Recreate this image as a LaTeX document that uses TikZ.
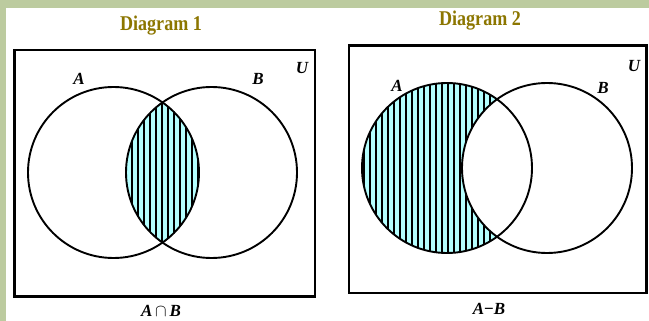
\documentclass[tikz,border=0pt]{standalone}
\usepackage{fontspec}
\setmainfont{Liberation Serif}
\begin{document}
\begin{tikzpicture}[x=1pt,y=-1pt]
\definecolor{bandgreen}{RGB}{188,203,159}
\definecolor{titleolive}{RGB}{140,118,0}
\definecolor{hatchcyan}{RGB}{180,255,255}
\tikzset{
  framebox/.style={draw=black,line width=2.6pt},
  setcircle/.style={draw=black,line width=1.9pt},
  hatchline/.style={draw=black,line width=1.4pt},
  title/.style={font=\fontsize{21}{23}\selectfont\bfseries,text=titleolive,inner sep=0pt},
  setlabel/.style={font=\fontsize{17}{18}\selectfont\bfseries\itshape,inner sep=0pt},
  caption/.style={font=\fontsize{17}{18}\selectfont\bfseries\itshape,inner sep=0pt}
}
\useasboundingbox (0,0) rectangle (649,321);
\fill[white] (0,0) rectangle (649,321);
\fill[bandgreen] (0,0) rectangle (649,8);
\fill[bandgreen] (0,0) rectangle (6,321);

% titles
\node[title] (t1) at (161,26) {\scalebox{0.86}[1]{Diagram 1}};
\node[title] (t2) at (480,21) {\scalebox{0.86}[1]{Diagram 2}};

% ---------- Diagram 1 ----------
\begin{scope}
  \clip (113.5,172.5) circle (85.5pt);
  \fill[hatchcyan] (211.5,172.5) circle (85.5pt);
  \clip (211.5,172.5) circle (85.5pt);
  \foreach \x in {126,132,...,204} \draw[hatchline] (\x,80) -- (\x,260);
\end{scope}
\draw[setcircle] (113.5,172.5) circle (85.5pt);
\draw[setcircle] (211.5,172.5) circle (85.5pt);
\draw[framebox] (14.5,50) rectangle (315,296.5);
\node[setlabel] (a1) at (79,79) {A};
\node[setlabel] (b1) at (258,79) {B};
\node[setlabel] (u1) at (302,68) {U};
\node[caption] (c1) at (161,311) {A\,$\cap$\,B};

% ---------- Diagram 2 ----------
\begin{scope}
  \clip (447,168) circle (85pt);
  \begin{scope}[even odd rule]
    \clip (340,30) rectangle (660,310) (547,168) circle (85pt);
    \fill[hatchcyan] (447,168) circle (85pt);
    \foreach \x in {364,370,...,500} \draw[hatchline] (\x,70) -- (\x,260);
  \end{scope}
\end{scope}
\draw[setcircle] (447,168) circle (85pt);
\draw[setcircle] (547,168) circle (85pt);
\draw[framebox] (349,45.5) rectangle (646.5,293);
\node[setlabel] (a2) at (397,86) {A};
\node[setlabel] (b2) at (603,88) {B};
\node[setlabel] (u2) at (634,66) {U};
\node[caption] (c2) at (489,309) {A{\upshape\bfseries −}B};
\end{tikzpicture}
\end{document}
